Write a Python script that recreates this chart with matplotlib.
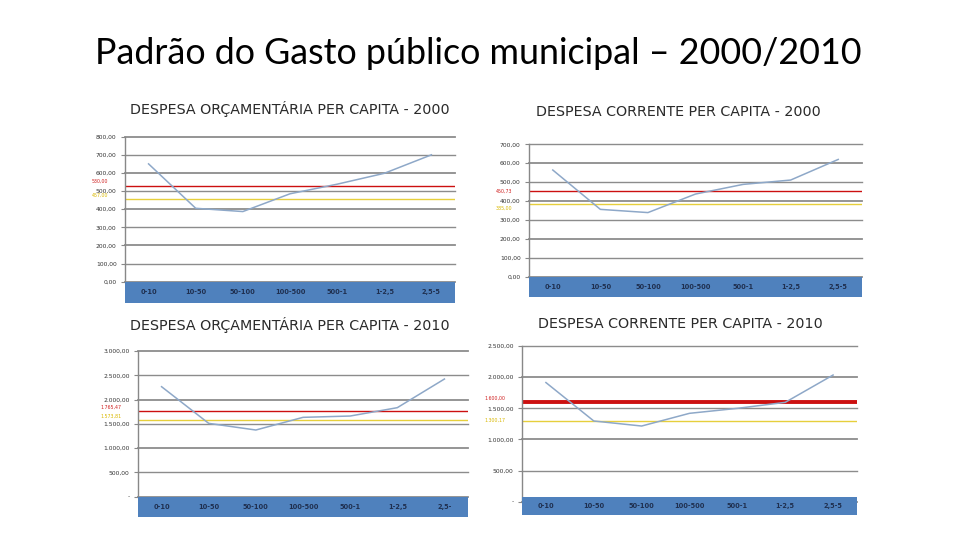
import matplotlib
matplotlib.use("Agg")
import matplotlib.pyplot as plt

W, H = 960, 540

# faixas de populacao (categorias)
cats = ["0-10", "10-50", "50-100", "100-500", "500-1", "1-2,5", "2,5-5"]
cats_trunc = ["0-10", "10-50", "50-100", "100-500", "500-1", "1-2,5", "2,5-"]

orc_2000 = [650, 405, 387, 485, 538, 598, 700]
cor_2000 = [564, 356, 339, 437, 488, 511, 620]
orc_2010 = [2265, 1510, 1373, 1634, 1661, 1833, 2423]
cor_2010 = [1913, 1296, 1215, 1419, 1499, 1595, 2034]

# medias (vermelho) e medianas (amarelo)
red_vals = [530.00, 450.73, 1765.47, 1600.00]
red_labels = ["530,00", "450,73", "1.765,47", "1.600,00"]
yel_vals = [457.00, 385.00, 1573.81, 1300.17]
yel_labels = ["457,00", "385,00", "1.573,81", "1.300,17"]

yt_800 = [0, 100, 200, 300, 400, 500, 600, 700, 800]
yl_800 = ["0,00", "100,00", "200,00", "300,00", "400,00", "500,00", "600,00", "700,00", "800,00"]
yt_700 = [0, 100, 200, 300, 400, 500, 600, 700]
yl_700 = ["0,00", "100,00", "200,00", "300,00", "400,00", "500,00", "600,00", "700,00"]
yt_3000 = [0, 500, 1000, 1500, 2000, 2500, 3000]
yl_3000 = ["-", "500,00", "1.000,00", "1.500,00", "2.000,00", "2.500,00", "3.000,00"]
yt_2500 = [0, 500, 1000, 1500, 2000, 2500]
yl_2500 = ["-", "500,00", "1.000,00", "1.500,00", "2.000,00", "2.500,00"]

titles = ["DESPESA ORÇAMENTÁRIA PER CAPITA - 2000",
          "DESPESA CORRENTE PER CAPITA - 2000",
          "DESPESA ORÇAMENTÁRIA PER CAPITA - 2010",
          "DESPESA CORRENTE PER CAPITA - 2010"]

# (x0, x1, y_top, y_zero, band_top, band_bottom, title_y) in pixels
boxes = [(125, 455, 136.7, 281.7, 281.7, 303, 109),
         (529, 862, 144.3, 276.7, 276.7, 296.7, 112),
         (138, 468, 351, 496.7, 496.7, 516.7, 325),
         (522, 857, 346, 501.7, 497, 515, 324)]
title_x = [290, 678, 290, 680]

series = [orc_2000, cor_2000, orc_2010, cor_2010]
ticks = [(yt_800, yl_800), (yt_700, yl_700), (yt_3000, yl_3000), (yt_2500, yl_2500)]
cat_sets = [cats, cats, cats_trunc, cats]
red_lw = [1.0, 1.0, 1.0, 2.8]
grid_lw = [1.3, 1.0]
# posicao dos rotulos das linhas (va, deslocamento em pontos)
red_pos = [("bottom", 1), ("center", 0), ("bottom", 0.5), ("bottom", 1)]
yel_pos = [("bottom", 1), ("top", -1), ("bottom", 1), ("center", 0)]

fig = plt.figure(figsize=(W / 100, H / 100), dpi=100)
fig.patch.set_facecolor("white")

fig.text(478 / W, 1 - 53 / H, "Padrão do Gasto público municipal – 2000/2010",
         ha="center", va="center", fontsize=25.8, family="Lato", color="black")

for i in range(4):
    x0, x1, yt, yz, bt, bb, ty = boxes[i]
    ax = fig.add_axes([x0 / W, 1 - yz / H, (x1 - x0) / W, (yz - yt) / H])
    vals = series[i]
    tv, tl = ticks[i]
    ax.set_xlim(-0.5, len(vals) - 0.5)
    ax.set_ylim(tv[0], tv[-1])
    ax.set_yticks(tv)
    ax.set_yticklabels(tl, fontsize=4.3, color="#333333")
    ax.tick_params(axis="y", length=3, width=0.8, color="#888888", pad=3)
    ax.set_xticks([])
    for k, v in enumerate(tv):
        ax.axhline(v, color="#8c8c8c", lw=grid_lw[k % 2], zorder=1, clip_on=False)
    for s in ["top", "right", "bottom"]:
        ax.spines[s].set_visible(False)
    ax.spines["left"].set_color("#888888")
    ax.spines["left"].set_linewidth(1.0)

    ax.axhline(red_vals[i], color="#cc1010", lw=red_lw[i], zorder=2)
    ax.axhline(yel_vals[i], color="#e6cf3c", lw=1.0, zorder=2)
    ax.plot(range(len(vals)), vals, color="#8ea8c8", lw=1.1, zorder=3)

    ax.annotate(red_labels[i], (-0.05, red_vals[i]), xycoords=ax.get_yaxis_transform(),
                xytext=(0, red_pos[i][1]), textcoords="offset points",
                ha="right", va=red_pos[i][0], fontsize=3.4, color="#d02020")
    ax.annotate(yel_labels[i], (-0.05, yel_vals[i]), xycoords=ax.get_yaxis_transform(),
                xytext=(0, yel_pos[i][1]), textcoords="offset points",
                ha="right", va=yel_pos[i][0], fontsize=3.4, color="#d9b800")

    # faixa azul das categorias
    band = fig.add_axes([x0 / W, 1 - bb / H, (x1 - x0) / W, (bb - bt) / H])
    band.set_facecolor("#4f81bd")
    band.set_xlim(ax.get_xlim())
    band.set_ylim(0, 1)
    band.set_xticks([])
    band.set_yticks([])
    for s in band.spines.values():
        s.set_visible(False)
    for j, c in enumerate(cat_sets[i]):
        band.text(j, 0.5, c, ha="center", va="center", fontsize=4.8,
                  color="#1f2f4f", fontweight="bold")

    fig.text(title_x[i] / W, 1 - ty / H, titles[i], ha="center", va="center",
             fontsize=10.3, color="#2a2a2a", family="DejaVu Sans")

fig.savefig("out.png", dpi=100, facecolor="white")
